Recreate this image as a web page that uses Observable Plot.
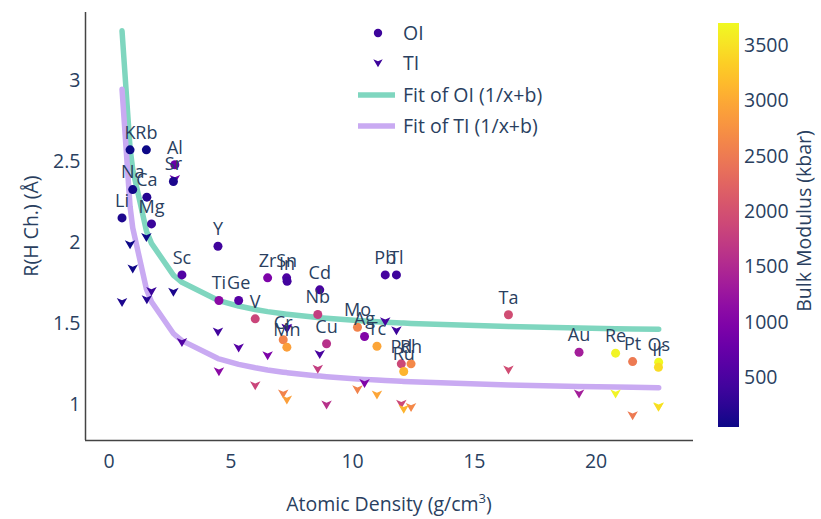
<!DOCTYPE html>
<html>
<head>
<meta charset="utf-8">
<script src="https://cdn.jsdelivr.net/npm/d3@7"></script>
<script src="https://cdn.jsdelivr.net/npm/@observablehq/plot@0.6"></script>
<style>
  body { margin: 0; background: #fff; }
  #chart svg { font-family: "Open Sans", sans-serif; }
</style>
</head>
<body>
<div id="chart"></div>
<script>
// Hydrogen channel radius vs atomic density, octahedral (OI) and tetrahedral (TI) sites
const elements = ["Li","Na","K","Rb","Ca","Mg","Al","Sr","Sc","Y","Ti","Ge","V","Zr","Sn","In","Cr","Mn","Nb","Cd","Cu","Mo","Ag","Tc","Pb","Tl","Pd","Rh","Ru","Ta","Au","Re","Pt","Os","Ir"];
const density = [0.53,0.97,0.86,1.53,1.55,1.74,2.70,2.64,2.99,4.47,4.51,5.32,6.0,6.51,7.29,7.31,7.15,7.30,8.57,8.65,8.93,10.2,10.49,11.0,11.34,11.8,12.0,12.4,12.1,16.4,19.3,20.8,21.5,22.57,22.56];
const rOI = [2.152,2.327,2.572,2.572,2.28,2.115,2.48,2.377,1.80,1.977,1.642,1.642,1.529,1.782,1.782,1.761,1.40,1.354,1.556,1.708,1.375,1.477,1.42,1.36,1.80,1.80,1.251,1.251,1.204,1.554,1.323,1.317,1.265,1.261,1.230];
const rTI = [1.632,1.838,1.988,2.033,1.648,1.70,2.39,1.695,1.385,1.45,1.204,1.35,1.117,1.302,1.473,1.47,1.066,1.029,1.22,1.31,0.998,1.093,1.131,1.06,1.512,1.457,1.004,0.983,0.973,1.214,1.066,1.066,0.932,0.988,0.985];
const bulkModulus = [140,75,55,48,180,360,780,120,550,410,1100,600,1850,950,520,420,2600,2900,1750,470,1600,2600,1000,2950,460,380,1900,2650,3100,1950,1350,3650,2500,3700,3450];

// Fitted offsets of the 1/x + b curves
const bOI = 1.42;
const bTI = 1.06;

const xTicks = [0, 5, 10, 15, 20];
const yTicks = [1, 1.5, 2, 2.5, 3];
const cbTicks = [500, 1000, 1500, 2000, 2500, 3000, 3500];
const xDomain = [-0.97, 24.0];
const yDomain = [0.778, 3.42];
const cDomain = [48, 3700];

const textColor = "#2a3f5f";
const tealFit = "#7fd6bf";
const lilacFit = "#c9aaf2";

const rows = elements.map((el, i) => ({el, x: density[i], oi: rOI[i], ti: rTI[i], bulk: bulkModulus[i]}));
const fitXs = Array.from(new Set(density)).sort((a, b) => a - b);
const fitOI = fitXs.map(x => ({x, y: 1 / x + bOI}));
const fitTI = fitXs.map(x => ({x, y: 1 / x + bTI}));

// Downward arrowhead marker
const triDown = {
  draw(ctx, size) {
    const r = Math.sqrt(size / Math.PI);
    ctx.moveTo(-1.05 * r, -0.85 * r);
    ctx.lineTo(0, -0.4 * r);
    ctx.lineTo(1.05 * r, -0.85 * r);
    ctx.lineTo(0, 0.95 * r);
    ctx.closePath();
  }
};

const W = 821, H = 519;
const mL = 85, mR = 128, mT = 12, mB = 79;

const svg = Plot.plot({
  width: W,
  height: H,
  marginLeft: mL,
  marginRight: mR,
  marginTop: mT,
  marginBottom: mB,
  style: {fontFamily: "'Open Sans', sans-serif", fontSize: "19.5px", color: textColor, background: "#fff"},
  x: {domain: xDomain, ticks: xTicks, tickSize: 0, tickPadding: 14, label: null, tickFormat: d => String(d)},
  y: {domain: yDomain, ticks: yTicks, tickSize: 0, tickPadding: 5, label: null, tickFormat: d => String(d)},
  color: {type: "linear", scheme: "plasma", domain: cDomain},
  marks: [
    Plot.ruleX([xDomain[0]], {stroke: "#444", strokeWidth: 1.5}),
    Plot.ruleY([yDomain[0]], {stroke: "#444", strokeWidth: 1.5}),
    Plot.line(fitOI, {x: "x", y: "y", stroke: tealFit, strokeWidth: 5.5}),
    Plot.line(fitTI, {x: "x", y: "y", stroke: lilacFit, strokeWidth: 5.5}),
    Plot.dot(rows, {x: "x", y: "ti", fill: "bulk", r: 5, symbol: triDown}),
    Plot.dot(rows, {x: "x", y: "oi", fill: "bulk", r: 4.5, symbol: "circle"}),
    Plot.text(rows, {x: "x", y: "oi", text: "el", dy: -17, fontSize: 18, fill: textColor, lineAnchor: "middle"})
  ]
});

document.getElementById("chart").appendChild(svg);

const root = d3.select(svg);
const font = "'Open Sans', sans-serif";

// Axis titles
const xt = root.append("text")
  .attr("x", mL + (W - mL - mR) / 2).attr("y", 511)
  .attr("text-anchor", "middle")
  .attr("fill", textColor).attr("font-size", 19.5).attr("font-family", font);
xt.append("tspan").text("Atomic Density (g/cm");
xt.append("tspan").attr("font-size", 13).attr("dy", -8).text("3");
xt.append("tspan").attr("dy", 8).text(")");

root.append("text")
  .attr("transform", `translate(31,${mT + (H - mT - mB) / 2}) rotate(-90)`)
  .attr("text-anchor", "middle")
  .attr("dy", "0.35em")
  .attr("fill", textColor).attr("font-size", 19.5).attr("font-family", font)
  .text("R(H Ch.) (Å)");

// Legend
const lg = root.append("g").attr("font-family", font).attr("font-size", 19.5)
  .attr("fill", textColor).attr("text-anchor", "start");
const legendColor = "#3d049b";
lg.append("circle").attr("cx", 378).attr("cy", 33).attr("r", 4.2).attr("fill", legendColor);
lg.append("text").attr("x", 403).attr("y", 33).attr("dy", "0.35em").text("OI");
lg.append("path").attr("transform", "translate(378,63)").attr("fill", legendColor)
  .attr("d", d3.symbol(triDown, Math.PI * 4.5 * 4.5)());
lg.append("text").attr("x", 403).attr("y", 63).attr("dy", "0.35em").text("TI");
lg.append("line").attr("x1", 358).attr("x2", 395).attr("y1", 95).attr("y2", 95)
  .attr("stroke", tealFit).attr("stroke-width", 5.5);
lg.append("text").attr("x", 403).attr("y", 95).attr("dy", "0.35em").text("Fit of OI (1/x+b)");
lg.append("line").attr("x1", 358).attr("x2", 395).attr("y1", 126).attr("y2", 126)
  .attr("stroke", lilacFit).attr("stroke-width", 5.5);
lg.append("text").attr("x", 403).attr("y", 126).attr("dy", "0.35em").text("Fit of TI (1/x+b)");

// Colour bar for bulk modulus
const cbX = 718, cbW = 21, cbTop = 23, cbBottom = 427;
const colorScale = svg.scale("color");
const cy = d3.scaleLinear().domain(colorScale.domain).range([cbBottom, cbTop]);
const grad = root.append("defs").append("linearGradient")
  .attr("id", "cbgrad").attr("x1", 0).attr("x2", 0).attr("y1", 1).attr("y2", 0);
d3.range(0, 1.0001, 0.05).forEach(t => {
  grad.append("stop").attr("offset", t).attr("stop-color", d3.interpolatePlasma(t));
});
root.append("rect").attr("x", cbX).attr("y", cbTop).attr("width", cbW).attr("height", cbBottom - cbTop)
  .attr("fill", "url(#cbgrad)");
const cbg = root.append("g").attr("font-family", font).attr("font-size", 19.5)
  .attr("fill", textColor).attr("text-anchor", "start");
cbTicks.forEach(v => {
  cbg.append("text").attr("x", 744).attr("y", cy(v)).attr("dy", "0.35em").text(v);
});
root.append("text")
  .attr("transform", `translate(804,${(cbTop + cbBottom) / 2 - 4}) rotate(-90)`)
  .attr("text-anchor", "middle")
  .attr("dy", "0.35em")
  .attr("fill", textColor).attr("font-size", 19.5).attr("font-family", font)
  .text("Bulk Modulus (kbar)");
</script>
</body>
</html>
